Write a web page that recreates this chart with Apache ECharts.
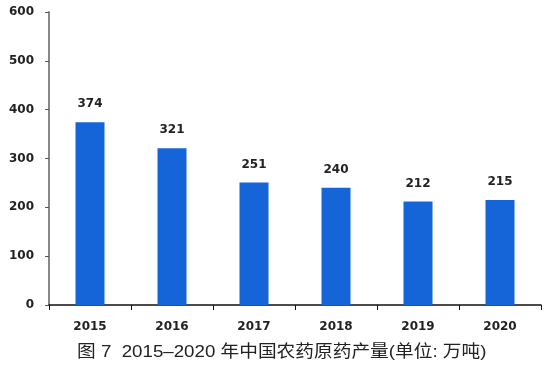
<!DOCTYPE html>
<html><head><meta charset="utf-8">
<script src="https://cdn.jsdelivr.net/npm/echarts@6/dist/echarts.min.js"></script>
<style>html,body{margin:0;padding:0;background:#fff}#c{width:547px;height:374px}</style>
</head><body><div id="c"></div>
<script>
const categories = ['2015','2016','2017','2018','2019','2020'];
const values = [374, 321, 251, 240, 212, 215];
const yTicks = [0, 100, 200, 300, 400, 500, 600];
const caption = '图 7  2015–2020 年中国农药原药产量(单位: 万吨)';

const chart = echarts.init(document.getElementById('c'));
chart.setOption({
  animation: false,
  grid: {left: 49, right: 6, top: 12, bottom: 69},
  graphic: [{
    type: 'text', left: 77, top: 344, scaleX: 1.1, originX: 0,
    style: {text: caption, fontSize: 17, fill: '#222', fontFamily: 'Liberation Sans, Noto Sans CJK SC'}
  }],
  xAxis: {
    type: 'category', data: categories,
    axisLine: {lineStyle: {color: '#111', width: 1.5}},
    axisTick: {show: true, alignWithLabel: false, length: 5, lineStyle: {color: '#111'}},
    axisLabel: {color: '#222', fontWeight: 'bold', fontSize: 12, margin: 16, fontFamily: 'DejaVu Sans'}
  },
  yAxis: {
    type: 'value', min: yTicks[0], max: yTicks[yTicks.length-1], interval: 100,
    axisLine: {show: true, lineStyle: {color: '#888', width: 2}},
    axisTick: {show: true, length: 4, lineStyle: {color: '#555'}},
    splitLine: {show: false},
    axisLabel: {color: '#222', fontWeight: 'bold', fontSize: 12, margin: 15, fontFamily: 'DejaVu Sans'}
  },
  series: [{
    type: 'bar', data: values, barWidth: 29,
    itemStyle: {color: '#1565d8'},
    label: {show: true, position: 'top', distance: 12, color: '#222', fontWeight: 'bold', fontSize: 12, fontFamily: 'DejaVu Sans'}
  }]
});
</script></body></html>
